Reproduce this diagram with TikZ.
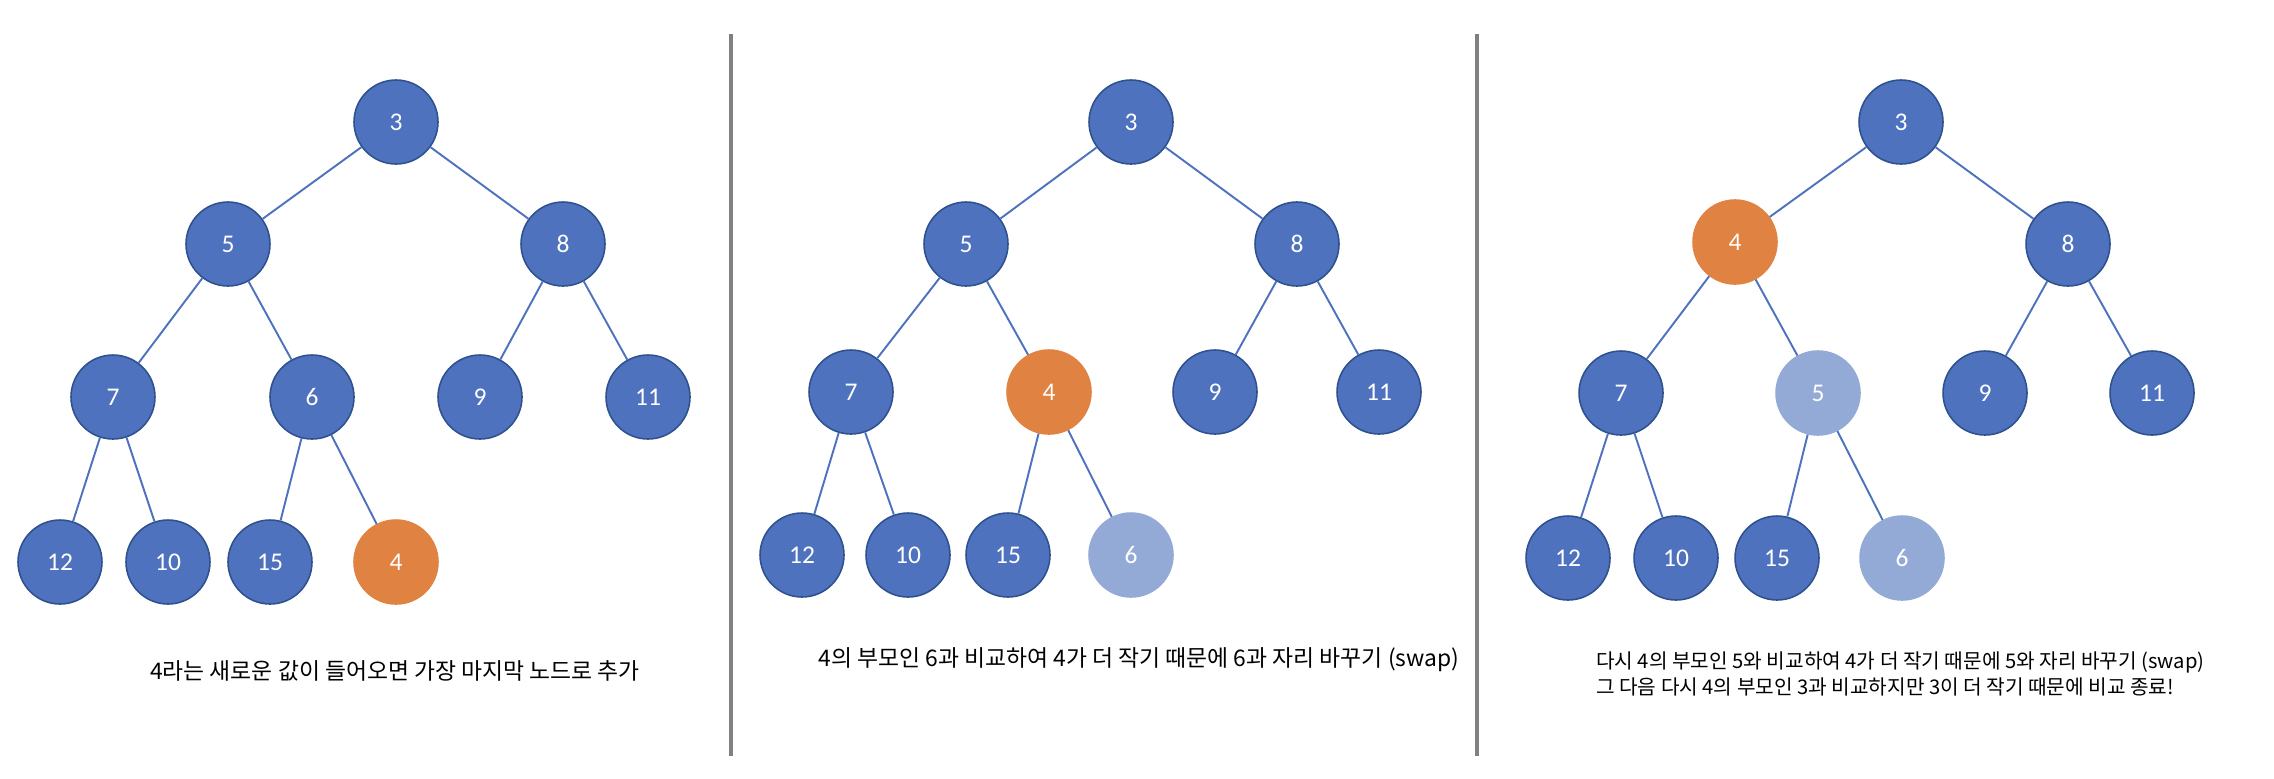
\documentclass[tikz,border=0pt]{standalone}
\usepackage{fontspec}
\usepackage{xcolor}
\setmainfont{Carlito}
\newfontfamily\kr{Noto Sans CJK KR}
\usetikzlibrary{positioning}

\definecolor{heapblue}{RGB}{78,114,190}
\definecolor{heapedge}{RGB}{47,82,143}
\definecolor{heaporange}{RGB}{224,131,66}
\definecolor{heaplight}{RGB}{148,170,214}
\definecolor{divgray}{RGB}{128,128,128}

\begin{document}
\begin{tikzpicture}[
    x=0.02cm, y=-0.02cm,
    key/.style={circle, draw=heapedge, line width=0.9pt, fill=heapblue, text=white, minimum size=1.68cm, inner sep=0pt, font=\fontsize{14.5}{16}\selectfont},
    newkey/.style={key, draw=heaporange, fill=heaporange},
    oldkey/.style={key, draw=heaplight, fill=heaplight},
    link/.style={draw=heapblue, line width=1.1pt},
    note/.style={font=\kr\fontsize{13}{15}\selectfont, align=left},
    smallnote/.style={font=\kr\fontsize{11.5}{15}\selectfont, align=left},
    divider/.style={draw=divgray, line width=0.08cm}
]
\useasboundingbox (0,0) rectangle (2274,778);

% step 1: insert 4 at the end
\node[key] (a3) at (396,122) {3};
\node[key] (a5) at (228,244) {5};
\node[key] (a8) at (563,244) {8};
\node[key] (a7) at (113,397) {7};
\node[key] (a6) at (312,397) {6};
\node[key] (a9) at (480,397) {9};
\node[key] (a11) at (648,397) {11};
\node[key] (a12) at (60,562) {12};
\node[key] (a10) at (168,562) {10};
\node[key] (a15) at (270,562) {15};
\node[newkey] (a4) at (396,562) {4};

\draw[link] (a3) -- (a5);
\draw[link] (a3) -- (a8);
\draw[link] (a5) -- (a7);
\draw[link] (a5) -- (a6);
\draw[link] (a8) -- (a9);
\draw[link] (a8) -- (a11);
\draw[link] (a7) -- (a12);
\draw[link] (a7) -- (a10);
\draw[link] (a6) -- (a15);
\draw[link] (a6) -- (a4);

\node[note] (anote) at (395,671) {4라는 새로운 값이 들어오면 가장 마지막 노드로 추가};

% step 2: swap with 6
\node[key] (b3) at (1131,122) {3};
\node[key] (b5) at (966,244) {5};
\node[key] (b8) at (1297,244) {8};
\node[key] (b7) at (851,392) {7};
\node[newkey] (b4) at (1049,392) {4};
\node[key] (b9) at (1215,392) {9};
\node[key] (b11) at (1379,392) {11};
\node[key] (b12) at (802,555) {12};
\node[key] (b10) at (908,555) {10};
\node[key] (b15) at (1008,555) {15};
\node[oldkey] (b6) at (1131,555) {6};

\draw[link] (b3) -- (b5);
\draw[link] (b3) -- (b8);
\draw[link] (b5) -- (b7);
\draw[link] (b5) -- (b4);
\draw[link] (b8) -- (b9);
\draw[link] (b8) -- (b11);
\draw[link] (b7) -- (b12);
\draw[link] (b7) -- (b10);
\draw[link] (b4) -- (b15);
\draw[link] (b4) -- (b6);

\node[note] (bnote) at (1139,660) {4의 부모인 6과 비교하여 4가 더 작기 때문에 6과 자리 바꾸기 (swap)};

% step 3: swap with 5, then stop
\node[key] (c3) at (1901,122) {3};
\node[newkey] (c4) at (1735,242) {4};
\node[key] (c8) at (2068,244) {8};
\node[key] (c7) at (1621,393) {7};
\node[oldkey] (c5) at (1818,393) {5};
\node[key] (c9) at (1985,393) {9};
\node[key] (c11) at (2152,393) {11};
\node[key] (c12) at (1568,558) {12};
\node[key] (c10) at (1676,558) {10};
\node[key] (c15) at (1777,558) {15};
\node[oldkey] (c6) at (1902,558) {6};

\draw[link] (c3) -- (c4);
\draw[link] (c3) -- (c8);
\draw[link] (c4) -- (c7);
\draw[link] (c4) -- (c5);
\draw[link] (c8) -- (c9);
\draw[link] (c8) -- (c11);
\draw[link] (c7) -- (c12);
\draw[link] (c7) -- (c10);
\draw[link] (c5) -- (c15);
\draw[link] (c5) -- (c6);

\node[smallnote, anchor=west] (cnote) at (1590,674) {다시 4의 부모인 5와 비교하여 4가 더 작기 때문에 5와 자리 바꾸기 (swap)\\그 다음 다시 4의 부모인 3과 비교하지만 3이 더 작기 때문에 비교 종료!};

% panel dividers
\coordinate (d1top) at (730.5,34);
\coordinate (d1bot) at (730.5,756);
\coordinate (d2top) at (1477,34);
\coordinate (d2bot) at (1477,756);
\draw[divider] (d1top) -- (d1bot);
\draw[divider] (d2top) -- (d2bot);
\end{tikzpicture}
\end{document}
